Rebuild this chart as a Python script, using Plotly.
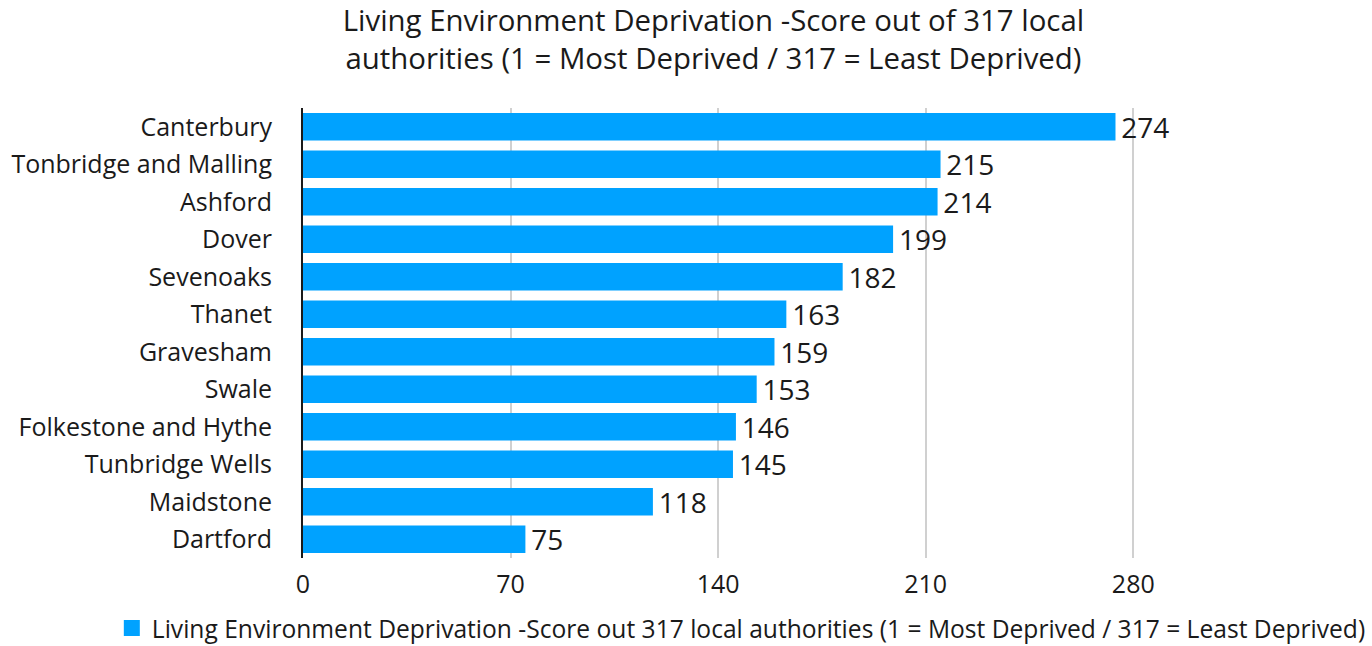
import plotly.graph_objects as go

# Living Environment Deprivation rank for Kent districts
districts = ["Canterbury", "Tonbridge and Malling", "Ashford", "Dover", "Sevenoaks",
             "Thanet", "Gravesham", "Swale", "Folkestone and Hythe",
             "Tunbridge Wells", "Maidstone", "Dartford"]
scores = [274, 215, 214, 199, 182, 163, 159, 153, 146, 145, 118, 75]
x_ticks = [0, 70, 140, 210, 280]

series_name = ("Living Environment Deprivation -Score out 317 local authorities "
               "(1 = Most Deprived / 317 = Least Deprived)")
title_text = ("Living Environment Deprivation -Score out of 317 local<br>"
              "authorities (1 = Most Deprived / 317 = Least Deprived)")

FONT = "Open Sans"
BAR_COLOR = "#00A2FF"
TEXT_COLOR = "#1a1a1a"

fig = go.Figure()
fig.add_trace(go.Bar(
    x=scores,
    y=districts,
    orientation="h",
    name=series_name,
    marker=dict(color=BAR_COLOR, line=dict(width=0)),
    texttemplate="\u200a%{x}",
    textposition="outside",
    constraintext="none",
    textfont=dict(family=FONT, size=28, color=TEXT_COLOR),
    cliponaxis=False,
    showlegend=False,
    legendgroup="score",
))
# larger square key for the legend entry
fig.add_trace(go.Scatter(
    x=[None], y=[None], mode="markers", name=series_name,
    marker=dict(symbol="square", size=19, color=BAR_COLOR),
    legendgroup="score", showlegend=True, hoverinfo="skip",
))

fig.update_layout(
    width=1372, height=646,
    margin=dict(l=303, r=129, t=108, b=88),
    paper_bgcolor="white", plot_bgcolor="white",
    font=dict(family=FONT, color=TEXT_COLOR),
    bargap=0.27,
    title=dict(text=title_text, x=0.52, xanchor="center",
               y=1 - 31 / 646, yanchor="middle",
               font=dict(family=FONT, size=29.4, color=TEXT_COLOR)),
    xaxis=dict(range=[0, 317], tickvals=x_ticks, showgrid=True,
               gridcolor="#d0d0d0", gridwidth=2, zeroline=False,
               tickfont=dict(family=FONT, size=25, color=TEXT_COLOR),
               ticks="", showline=False, ticklabelstandoff=9,
               automargin=False),
    yaxis=dict(categoryorder="array", categoryarray=districts[::-1],
               tickfont=dict(family=FONT, size=25, color=TEXT_COLOR),
               showline=True, linecolor=TEXT_COLOR, linewidth=2,
               ticks="", ticklabelstandoff=24, showgrid=False,
               automargin=False),
    legend=dict(orientation="h", xref="container", x=0.0815, xanchor="left",
                yref="container", y=18 / 646, yanchor="middle",
                font=dict(family=FONT, size=24.6, color=TEXT_COLOR),
                itemwidth=30),
)

fig.write_html("out.html")
